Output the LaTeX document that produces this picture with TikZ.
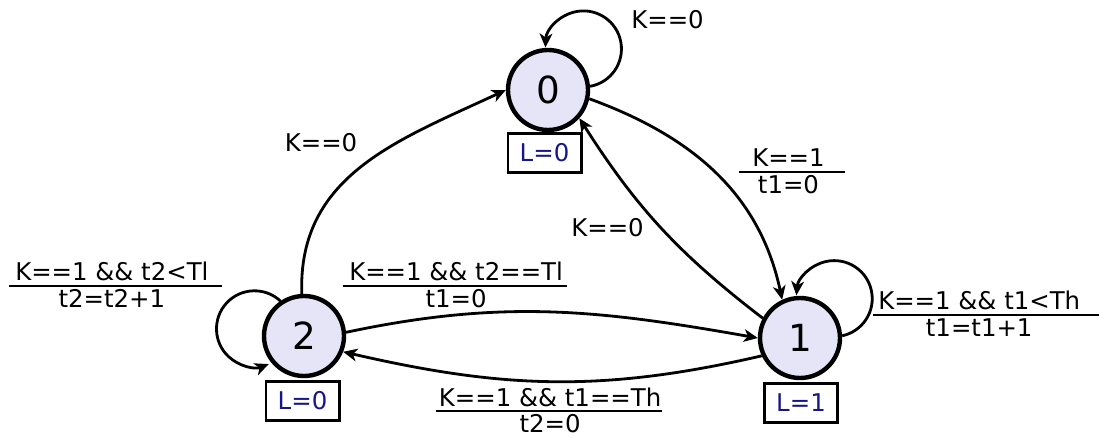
\documentclass[tikz,border=0pt]{standalone}
\usepackage{fontspec}
\setmainfont{DejaVu Sans}
\usetikzlibrary{arrows.meta,backgrounds}
\definecolor{statefill}{RGB}{229,229,247}
\definecolor{lblue}{RGB}{22,22,135}
\setlength{\arrayrulewidth}{1.5pt}
\newcommand{\fraclab}[4]{\begin{tabular}[t]{@{\hspace{#1}}c@{\hspace{#2}}}#3\\[-3.7pt]\hline\rule{0pt}{15.75pt}#4\end{tabular}}
\begin{document}
\begin{tikzpicture}[x=0.75pt,y=0.75pt,
 state/.style={circle,draw,line width=3.3pt,fill=statefill,minimum size=60pt,inner sep=0pt,font=\fontsize{28}{33}\selectfont},
 outbox/.style={rectangle,draw,line width=2pt,fill=white,minimum width=55pt,minimum height=29.5pt,inner sep=0pt,text=lblue,font=\fontsize{18.3}{22}\selectfont},
 lab/.style={inner sep=0pt,font=\fontsize{18.3}{22}\selectfont},
 conn/.style={line width=2.1pt,-{Stealth[length=10.5pt,width=9.5pt,inset=3pt]}}]
\useasboundingbox (0,0) rectangle (1099,-438);
% states
\node[state] (n0) at (548,-90) {0};
\node[state] (n1) at (800,-338) {1};
\node[state] (n2) at (304,-336) {2};
% outputs
\node[outbox] (b0) at (544.5,-153) {L=0};
\node[outbox] (b1) at (801,-403) {L=1};
\node[outbox] (b2) at (302.5,-401) {L=0};
% labels
\node[lab,anchor=base] (k0a) at (667.5,-29) {K==0};
\node[lab,anchor=base] (k0b) at (321,-152) {K==0};
\node[lab,anchor=base] (k0c) at (607.5,-237) {K==0};
\node[lab,anchor=base west] (f01) at (739,-166.7) {\fraclab{9.75pt}{15pt}{K==1}{t1=0}};
\node[lab,anchor=base west] (f22) at (9,-280.7) {\fraclab{4.5pt}{10.5pt}{K==1 \&\& t2<Tl}{t2=t2+1}};
\node[lab,anchor=base west] (f21) at (343,-280.7) {\fraclab{4.5pt}{3pt}{K==1 \&\& t2==Tl}{t1=0}};
\node[lab,anchor=base west] (f12) at (436,-406) {\fraclab{2pt}{0.5pt}{K==1 \&\& t1==Th}{t2=0}};
\node[lab,anchor=base west] (f11) at (873,-310) {\fraclab{3.75pt}{20pt}{K==1 \&\& t1<Th}{t1=t1+1}};
% connectors
\begin{scope}[on background layer]
\fill[white] (0,0) rectangle (1099,-438);
\draw[conn] (n0.5) arc[start angle=-80,end angle=178,radius=38];
\draw[conn] (n1.3) arc[start angle=-78,end angle=175,radius=38];
\draw[conn] (n2.124) arc[start angle=47,end angle=292,radius=38];
\draw[conn] (n0.-12) to[out=-20,in=102] (n1.115);
\draw[conn] (n1.152) to[bend left=10] (n0.-42);
\draw[conn] (n2.93) to[out=92,in=205,looseness=1.05] (n0.180);
\draw[conn] (n2.5) to[out=12,in=170] (n1.180);
\draw[conn] (n1.205) to[out=193,in=-13] (n2.338);
\end{scope}
\end{tikzpicture}
\end{document}
